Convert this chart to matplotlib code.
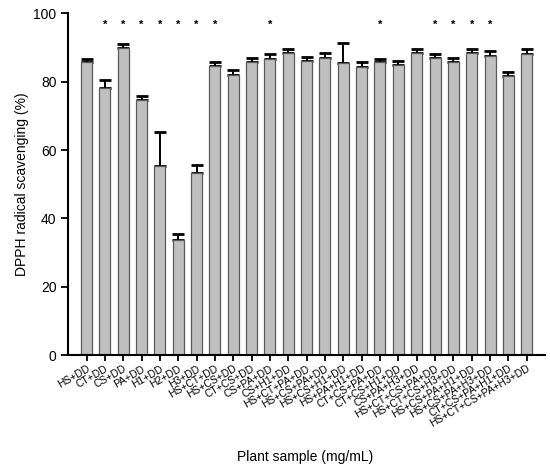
import matplotlib
matplotlib.use("Agg")
import matplotlib.pyplot as plt
import numpy as np

plt.rcParams['font.family'] = ['Liberation Sans', 'DejaVu Sans']

samples = ['HS+DD', 'CT+DD', 'CS+DD', 'PA+DD', 'H1+DD', 'H2+DD', 'H3+DD',
           'HS+CT+DD', 'HS+CS+DD', 'CT+CS+DD', 'CS+PA+DD', 'CS+H1+DD',
           'HS+CT+PA+DD', 'HS+CS+PA+DD', 'HS+CS+H1+DD', 'HS+PA+H1+DD',
           'CT+CS+PA+DD', 'CT+CS+H1+DD', 'CS+PA+H3+DD', 'HS+CT+CS+PA+DD',
           'HS+CT+CS+H3+DD', 'HS+CS+PA+H1+DD', 'HS+CS+PA+H3+DD',
           'CT+CS+PA+H1+DD', 'HS+CT+CS+PA+H3+DD']
scavenging = [85.7, 78.2, 89.7, 74.5, 55.3, 33.8, 53.3, 84.6, 81.9, 85.7,
              86.7, 88.3, 86.1, 87.0, 85.4, 84.4, 85.7, 84.8, 88.4, 86.8,
              85.6, 88.4, 87.6, 81.7, 88.0]
sd = [1.0, 2.2, 1.4, 1.2, 10.0, 1.8, 2.2, 1.2, 1.4, 1.2, 1.4, 1.1, 1.2,
      1.3, 5.9, 1.3, 1.0, 1.2, 1.0, 1.3, 1.2, 1.0, 1.4, 1.1, 1.4]
# bars marked with an asterisk (0-based index)
significant = [1, 2, 3, 4, 5, 6, 7, 10, 16, 19, 20, 21, 22]

fig = plt.figure(figsize=(5.5, 4.7), dpi=100)
ax = fig.add_axes([0.124, 0.244, 0.867, 0.728])

x = np.arange(len(samples))
ax.bar(x, scavenging, width=0.6, color='#c0c0c0', edgecolor='#5a5a5a', linewidth=0.9, zorder=2)
ax.errorbar(x, scavenging, yerr=[np.zeros(len(sd)), sd], fmt='none',
            ecolor='black', elinewidth=1.4, capsize=4, capthick=2, zorder=1)

for i in significant:
    ax.text(x[i], 96.6, '*', ha='center', va='center', fontsize=8, fontweight='bold')

ax.set_xlim(-1, 25)
ax.set_ylim(0, 100)
ax.set_yticks([0, 20, 40, 60, 80, 100])
ax.set_xticks(x)
ax.set_xticklabels(samples, rotation=30, ha='right', va='top',
                   rotation_mode='anchor', fontsize=7.5)
ax.tick_params(axis='y', labelsize=10, width=1.3, length=5)
ax.tick_params(axis='x', width=1.3, length=4, pad=2)

for side in ['top', 'right']:
    ax.spines[side].set_visible(False)
for side in ['left', 'bottom']:
    ax.spines[side].set_linewidth(1.5)

ax.set_ylabel('DPPH radical scavenging (%)', fontsize=10, labelpad=3)
fig.text(0.555, 0.028, 'Plant sample (mg/mL)', ha='center', va='center', fontsize=10)

fig.savefig('out.png', dpi=100)
